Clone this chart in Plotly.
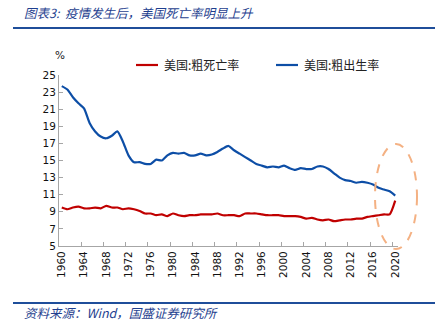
import plotly.graph_objects as go

years = list(range(1960, 2021))
birth_rate = [23.7, 23.3, 22.4, 21.7, 21.1, 19.4, 18.4, 17.8, 17.6, 17.9,
              18.4, 17.2, 15.6, 14.8, 14.8, 14.6, 14.6, 15.1, 15.0, 15.6,
              15.9, 15.8, 15.9, 15.6, 15.6, 15.8, 15.6, 15.7, 16.0, 16.4,
              16.7, 16.2, 15.8, 15.4, 15.0, 14.6, 14.4, 14.2, 14.3, 14.2,
              14.4, 14.1, 13.9, 14.1, 14.0, 14.0, 14.3, 14.3, 14.0, 13.5,
              13.0, 12.7, 12.6, 12.4, 12.5, 12.4, 12.2, 11.8, 11.6, 11.4,
              10.9]
death_rate = [9.5, 9.3, 9.5, 9.6, 9.4, 9.4, 9.5, 9.4, 9.7, 9.5,
              9.5, 9.3, 9.4, 9.3, 9.1, 8.8, 8.8, 8.6, 8.7, 8.5,
              8.8, 8.6, 8.5, 8.6, 8.6, 8.7, 8.7, 8.7, 8.8, 8.6,
              8.6, 8.6, 8.5, 8.8, 8.8, 8.8, 8.7, 8.6, 8.6, 8.6,
              8.5, 8.5, 8.5, 8.4, 8.2, 8.3, 8.1, 8.0, 8.1, 7.9,
              8.0, 8.1, 8.1, 8.2, 8.2, 8.4, 8.5, 8.6, 8.7, 8.7,
              10.3]
series_names = ["美国:粗死亡率", "美国:粗出生率"]
y_ticks = [5, 7, 9, 11, 13, 15, 17, 19, 21, 23, 25]
title_text = "图表3:  疫情发生后，美国死亡率明显上升"
source_text = "资料来源：Wind，国盛证券研究所"

RED = "#c00000"
BLUE = "#0d4ea6"
NAVY = "#1f3f8f"
CJK = "Noto Sans CJK SC"

x_cat = [str(y) for y in years]

fig = go.Figure()
fig.add_trace(go.Scatter(x=x_cat, y=death_rate, mode="lines", name=series_names[0],
                         line=dict(color=RED, width=2.2, shape="spline", smoothing=0.6),
                         showlegend=False))
fig.add_trace(go.Scatter(x=x_cat, y=birth_rate, mode="lines", name=series_names[1],
                         line=dict(color=BLUE, width=2.2, shape="spline", smoothing=0.6),
                         showlegend=False))

W, H = 447, 334
L, R, T, B = 59, 49, 75, 88
pw, ph = W - L - R, H - T - B


def px(x):
    return (x - L) / pw


def py(y):
    return (H - B - y) / ph


shapes = []
annotations = []

# title and rules
annotations.append(dict(x=px(22), y=py(13), xref="paper", yref="paper", xanchor="left",
                        yanchor="middle", text="<i>" + title_text + "</i>", showarrow=False,
                        font=dict(family=CJK, size=12.5, color=NAVY)))
shapes.append(dict(type="line", xref="paper", yref="paper", x0=px(13), x1=px(435),
                   y0=py(28), y1=py(28), line=dict(color="#1f4e9a", width=2)))
shapes.append(dict(type="line", xref="paper", yref="paper", x0=px(13), x1=px(435),
                   y0=py(303), y1=py(303), line=dict(color="#1f4e9a", width=2)))
annotations.append(dict(x=px(22), y=py(312), xref="paper", yref="paper", xanchor="left",
                        yanchor="middle", text="<i>" + source_text + "</i>", showarrow=False,
                        font=dict(family=CJK, size=12.5, color=NAVY)))
# unit
annotations.append(dict(x=px(60), y=py(55), xref="paper", yref="paper", xanchor="center",
                        yanchor="middle", text="%", showarrow=False,
                        font=dict(family="DejaVu Sans", size=10.5, color="#222222")))
# legend (manual)
for (x0, x1, tx), col, name in [((136, 158, 162), RED, series_names[0]),
                                 ((276, 298, 302), BLUE, series_names[1])]:
    shapes.append(dict(type="line", xref="paper", yref="paper", x0=px(x0), x1=px(x1),
                       y0=py(65), y1=py(65), line=dict(color=col, width=2.2)))
    annotations.append(dict(x=px(tx), y=py(65), xref="paper", yref="paper", xanchor="left",
                            yanchor="middle", text=name, showarrow=False,
                            font=dict(family=CJK, size=12, color="#222222")))
# highlight ellipse
shapes.append(dict(type="circle", xref="paper", yref="paper", x0=px(375), x1=px(417),
                   y0=py(249), y1=py(144), line=dict(color="#f4b183", width=2, dash="dash")))

fig.update_layout(
    width=W, height=H,
    margin=dict(l=L, r=R, t=T, b=B, pad=0),
    paper_bgcolor="white", plot_bgcolor="white",
    shapes=shapes, annotations=annotations,
    showlegend=False,
    xaxis=dict(type="category", tickson="boundaries", dtick=4, tickangle=-90,
               showgrid=False, zeroline=False, showline=True, linecolor="#a6a6a6",
               linewidth=1, ticks="inside", ticklen=4, tickcolor="#a6a6a6",
               tickfont=dict(family="DejaVu Sans", size=10.5, color="#111111"),
               range=[-0.5, 60.5]),
    yaxis=dict(range=[5, 25], tickvals=y_ticks, showgrid=False, zeroline=False,
               showline=True, linecolor="#a6a6a6", linewidth=1, ticks="inside",
               ticklen=4, tickcolor="#a6a6a6",
               tickfont=dict(family="DejaVu Sans", size=10.5, color="#111111")),
)

fig.write_html("out.html")
